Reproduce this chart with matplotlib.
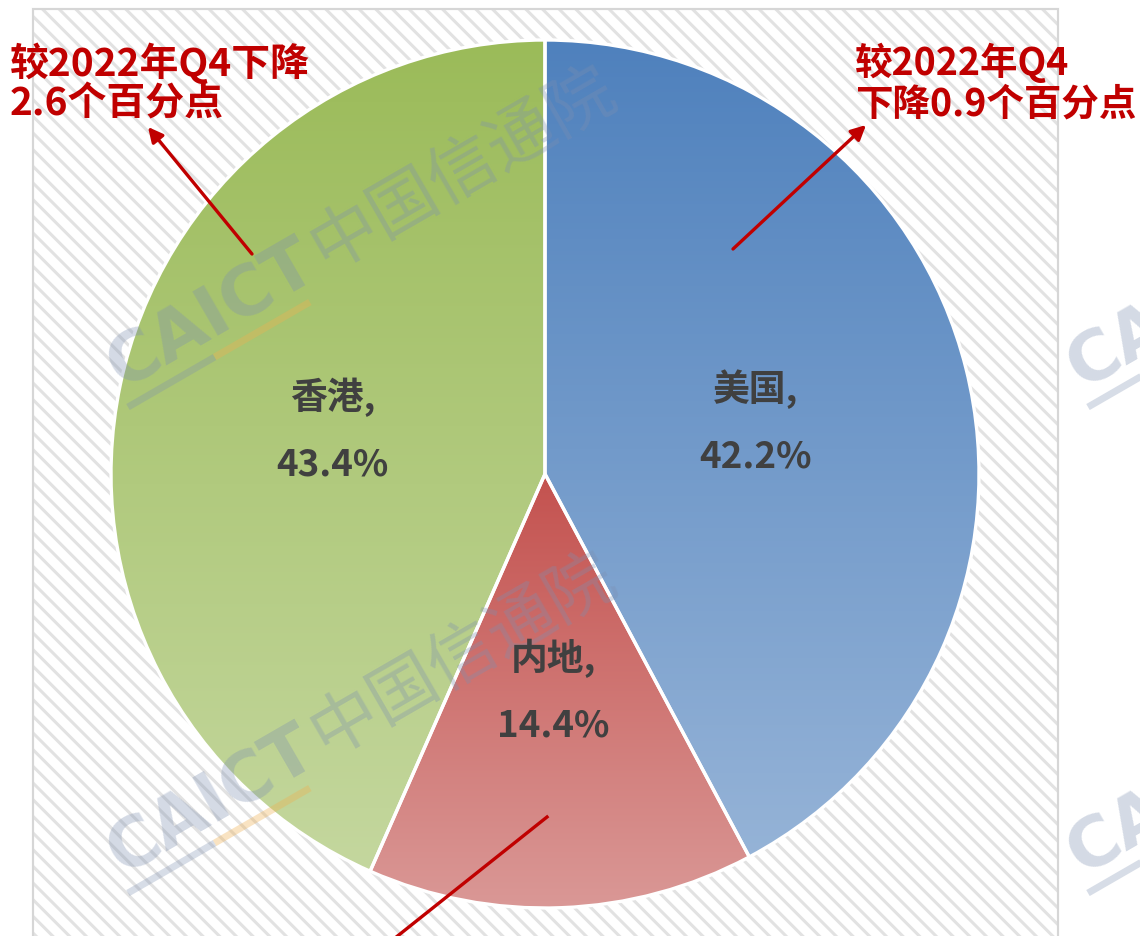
import numpy as np
import matplotlib
matplotlib.use("Agg")
import matplotlib.pyplot as plt
from matplotlib.colors import LinearSegmentedColormap
from matplotlib.patches import Rectangle

# ========================= data ==============================================

regions = ["美国", "内地", "香港"]
shares = [42.2, 14.4, 43.4]
grad_top = ["#4F81BD", "#C4524F", "#9BBB59"]
grad_bottom = ["#95B3D7", "#DA9896", "#C4D79E"]

note_left = ["较2022年Q4下降", "2.6个百分点"]
note_right = ["较2022年Q4", "下降0.9个百分点"]
watermark = "CAICT 中国信通院"

# ========================= setup =============================================

plt.rcParams['font.family'] = ['Noto Sans CJK SC', 'DejaVu Sans']
plt.rcParams['hatch.linewidth'] = 2.2

W, H = 1140, 937
fig = plt.figure(figsize=(W / 100, H / 100), dpi=100)
ax = fig.add_axes([0, 0, 1, 1])

# hatched plot area background
bg = Rectangle((33, -5), 1025, 932, facecolor="white", edgecolor="#E2E2E2",
               hatch="\\\\", linewidth=1.5, zorder=0)
ax.add_patch(bg)
ax.add_patch(Rectangle((33, -5), 1025, 932, facecolor="none",
                       edgecolor="#D6D6D6", linewidth=1.5, zorder=0.5))

# ========================= pie ===============================================

center = (545, 462)
radius = 434
wedges, _ = ax.pie(shares, startangle=90, counterclock=False, center=center,
                   radius=radius, frame=True,
                   wedgeprops=dict(facecolor="none", edgecolor="white",
                                   linewidth=2.4, zorder=3))

# vertical gradient fill inside every wedge
grad = np.linspace(0, 1, 256).reshape(-1, 1)
for w, c0, c1 in zip(wedges, grad_top, grad_bottom):
    ext = w.get_path().get_extents()
    cmap = LinearSegmentedColormap.from_list("g", [c1, c0])
    im = ax.imshow(grad, extent=[ext.x0, ext.x1, ext.y0, ext.y1], origin="lower",
                   cmap=cmap, aspect="auto", zorder=2, interpolation="bilinear")
    im.set_clip_path(w)

# ========================= watermark =========================================

ang = 30.0
ca, sa = np.cos(np.radians(ang)), np.sin(np.radians(ang))
for x0, y0 in [(122, 548), (122, 62), (1082, 548), (1082, 62)]:
    ax.text(x0, y0, "CAICT", rotation=ang, rotation_mode="anchor", fontsize=50,
            fontweight="bold", color="#7D8FB0", alpha=0.33, ha="left",
            va="baseline", zorder=4, family="DejaVu Sans")
    if x0 + 235 * ca < W:
        ax.text(x0 + 235 * ca, y0 + 235 * sa, watermark.split(" ")[1],
                rotation=ang, rotation_mode="anchor", fontsize=49,
                color="#7D8FB0", alpha=0.33, ha="left", va="baseline", zorder=4)
    # underline
    bx, by = x0 + 12 * sa, y0 - 22 * ca
    ax.plot([bx, bx + 100 * ca], [by, by + 100 * sa], color="#7D8FB0",
            alpha=0.3, lw=5, solid_capstyle="butt", zorder=4)
    ax.plot([bx + 100 * ca, bx + 210 * ca], [by + 100 * sa, by + 210 * sa],
            color="#F0B050", alpha=0.35, lw=5, solid_capstyle="butt", zorder=4)

# ========================= labels ============================================

for w, name, val in zip(wedges, regions, shares):
    theta = np.radians((w.theta1 + w.theta2) / 2)
    x = center[0] + 0.5 * radius * np.cos(theta)
    y = center[1] + 0.5 * radius * np.sin(theta)
    ax.text(x, y, "{0},\n{1:.1f}%".format(name, val), ha="center", va="center",
            fontsize=26.5, fontweight="bold", color="#404040", linespacing=2.0,
            zorder=6)

# ========================= annotations =======================================

red = "#C00000"
arrow = dict(arrowstyle="-|>", color=red, lw=2.4, mutation_scale=22,
             shrinkA=0, shrinkB=0)

ax.annotate("", xy=(148, 809), xytext=(252, 682), arrowprops=arrow, zorder=7)
ax.annotate("", xy=(866, 811), xytext=(733, 687), arrowprops=arrow, zorder=7)
ax.plot([547, 385], [119, -10], color=red, lw=2.4, zorder=7)

for i, line in enumerate(note_left):
    ax.text(10, 874 - 41 * i, line, ha="left", va="center", fontsize=28,
            fontweight="bold", color=red, zorder=7)
for i, line in enumerate(note_right):
    ax.text(855, 874 - 41 * i, line, ha="left", va="center", fontsize=27,
            fontweight="bold", color=red, zorder=7)

# ========================= configure =========================================

ax.set_xlim(0, W)
ax.set_ylim(0, H)
ax.set_aspect("auto")
ax.axis("off")

fig.savefig("out.png", dpi=100)
